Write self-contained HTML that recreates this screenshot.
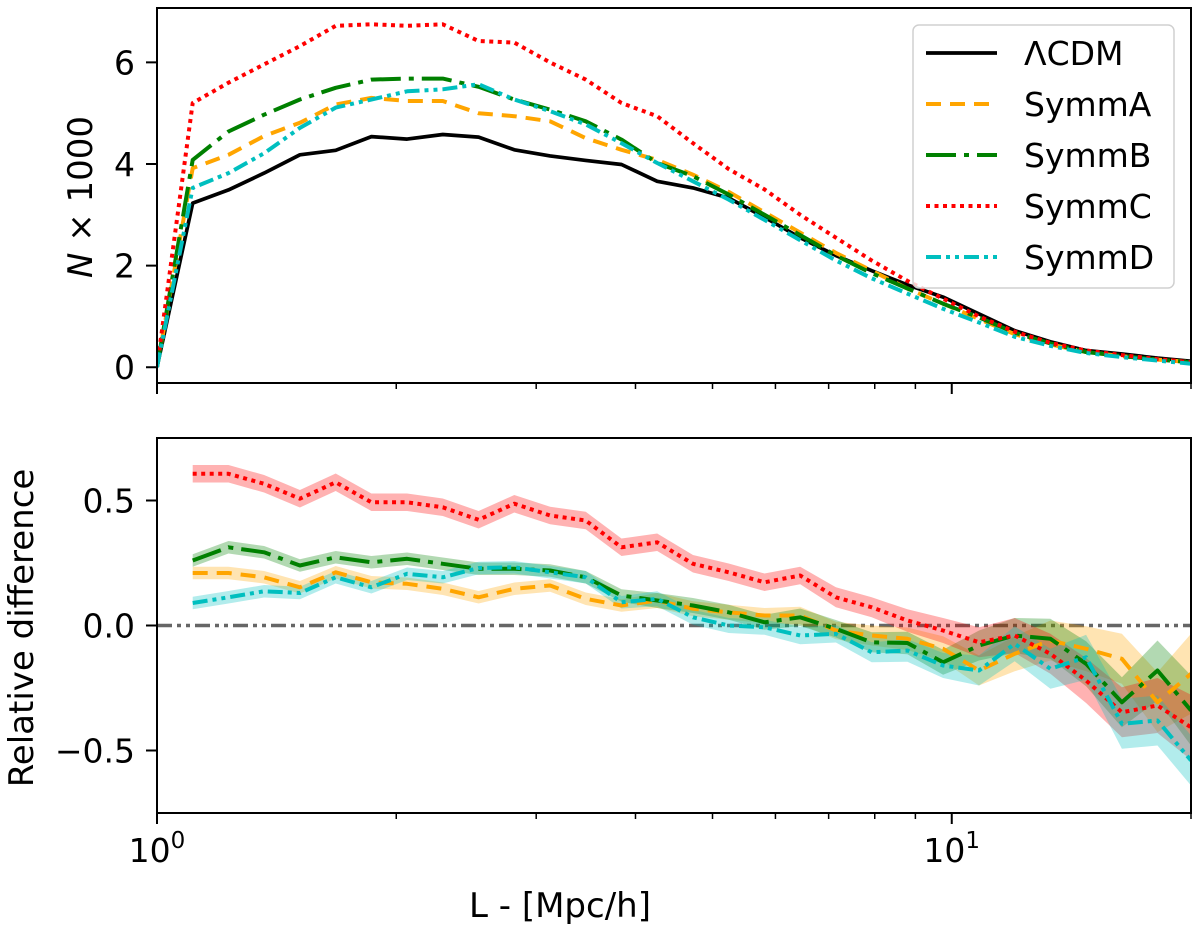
<!DOCTYPE html>
<html><head><meta charset="utf-8"><style>
body{margin:0;background:#fff;}
svg text{font-family:"DejaVu Sans","Liberation Sans",sans-serif;}
</style></head><body>
<svg id="chart" xmlns="http://www.w3.org/2000/svg" width="1200" height="925" viewBox="0 0 1200 925"></svg>
<script>
// ---- data ----
const L = [1.0,1.109,1.23,1.364,1.513,1.678,1.861,2.064,2.289,2.539,2.816,3.123,3.463,3.841,4.26,4.725,5.24,5.812,6.446,7.149,7.929,8.794,9.753,10.82,12.0,13.31,14.76,16.37,18.15,20.0];
const seriesNames = ["ΛCDM","SymmA","SymmB","SymmC","SymmD"];
const nLCDM = [0,3.23,3.49,3.82,4.18,4.27,4.54,4.49,4.58,4.53,4.28,4.16,4.07,3.99,3.66,3.53,3.33,2.95,2.55,2.2,1.9,1.62,1.38,1.05,0.72,0.5,0.33,0.26,0.18,0.12];
const nSymmA = [0,3.92,4.18,4.55,4.81,5.17,5.3,5.24,5.24,5.0,4.94,4.84,4.51,4.28,4.08,3.79,3.45,3.05,2.65,2.25,1.9,1.55,1.25,0.95,0.65,0.45,0.3,0.22,0.15,0.1];
const nSymmB = [0,4.08,4.64,4.97,5.27,5.5,5.66,5.68,5.68,5.52,5.27,5.07,4.84,4.48,4.02,3.76,3.4,3.0,2.6,2.2,1.85,1.55,1.25,0.98,0.68,0.47,0.3,0.22,0.15,0.1];
const nSymmC = [0,5.2,5.6,5.96,6.32,6.72,6.75,6.72,6.75,6.42,6.39,6.0,5.66,5.2,4.94,4.41,3.9,3.5,3.0,2.55,2.1,1.7,1.35,1.0,0.7,0.48,0.33,0.24,0.16,0.1];
const nSymmD = [0,3.53,3.82,4.21,4.71,5.11,5.27,5.43,5.47,5.57,5.27,5.04,4.78,4.41,4.02,3.66,3.3,2.9,2.5,2.1,1.75,1.45,1.15,0.88,0.6,0.42,0.28,0.2,0.13,0.07];
// relative difference (index 1..29)
const rA = [null,0.21,0.21,0.193,0.153,0.213,0.173,0.167,0.147,0.113,0.147,0.16,0.107,0.08,0.1,0.067,0.053,0.04,0.04,-0.02,-0.04,-0.053,-0.093,-0.18,-0.113,-0.06,-0.093,-0.133,-0.307,-0.193];
const rB = [null,0.26,0.313,0.293,0.24,0.273,0.253,0.267,0.247,0.227,0.227,0.22,0.193,0.12,0.1,0.08,0.053,0.013,0.033,-0.013,-0.067,-0.07,-0.147,-0.08,-0.04,-0.053,-0.153,-0.307,-0.18,-0.34];
const rC = [null,0.607,0.607,0.567,0.507,0.573,0.493,0.493,0.473,0.423,0.487,0.44,0.42,0.313,0.333,0.247,0.213,0.173,0.2,0.113,0.073,0.02,-0.02,-0.067,-0.04,-0.113,-0.22,-0.347,-0.32,-0.407];
const rD = [null,0.09,0.113,0.137,0.13,0.193,0.153,0.207,0.193,0.23,0.233,0.213,0.193,0.093,0.107,0.033,0.0,-0.007,-0.04,-0.033,-0.107,-0.1,-0.16,-0.18,-0.073,-0.173,-0.127,-0.393,-0.38,-0.54];
const eA = [null,0.025,0.025,0.025,0.025,0.025,0.025,0.025,0.025,0.025,0.025,0.025,0.025,0.025,0.03,0.03,0.03,0.03,0.035,0.035,0.04,0.045,0.05,0.06,0.07,0.08,0.09,0.1,0.12,0.16];
const eB = [null,0.025,0.025,0.025,0.025,0.025,0.025,0.025,0.025,0.025,0.025,0.025,0.025,0.025,0.03,0.03,0.03,0.03,0.035,0.035,0.04,0.045,0.05,0.06,0.07,0.08,0.09,0.1,0.12,0.14];
const eC = [null,0.035,0.035,0.035,0.035,0.035,0.035,0.035,0.035,0.035,0.035,0.035,0.035,0.035,0.035,0.035,0.035,0.035,0.035,0.04,0.04,0.045,0.05,0.06,0.07,0.08,0.09,0.1,0.11,0.13];
const eD = [null,0.025,0.025,0.025,0.025,0.025,0.025,0.025,0.025,0.025,0.025,0.025,0.025,0.025,0.03,0.03,0.03,0.03,0.035,0.035,0.04,0.045,0.05,0.06,0.07,0.08,0.09,0.1,0.1,0.1];
const topTicks = [0,2,4,6];
const botTicks = [-0.5,0.0,0.5];
const botTickLabels = ["−0.5","0.0","0.5"];
const minorX = [2,3,4,5,6,7,8,9,20];
// ---- layout ----
const X0=157, X1=1191, xmin=1, xmax=20;
const T={y0:8,y1:383,min:-0.31,max:7.07};
const B={y0:438,y1:813,min:-0.75,max:0.75};
const FS=33;
const NS="http://www.w3.org/2000/svg";
const svg=document.getElementById('chart');
function sx(v){return X0+(Math.log10(v)-Math.log10(xmin))/(Math.log10(xmax)-Math.log10(xmin))*(X1-X0);}
function sy(p,v){return p.y1-(v-p.min)/(p.max-p.min)*(p.y1-p.y0);}
function mk(tag,attrs,parent){const e=document.createElementNS(NS,tag);for(const k in attrs)e.setAttribute(k,attrs[k]);(parent||svg).appendChild(e);return e;}
const styles=[
 {c:"#000000",d:"",w:3.7},
 {c:"#FFA500",d:"15 9",w:4},
 {c:"#008000",d:"30 8 5 8",w:4},
 {c:"#FF0000",d:"4 4.5",w:4},
 {c:"#00BFBF",d:"15 5 4 5 4 5",w:4}
];
const defs=mk('defs',{});
const cpT=mk('clipPath',{id:'cpT'},defs);mk('rect',{x:X0,y:T.y0,width:X1-X0,height:T.y1-T.y0},cpT);
const cpB=mk('clipPath',{id:'cpB'},defs);mk('rect',{x:X0,y:B.y0,width:X1-X0,height:B.y1-B.y0},cpB);
// ---- top panel ----
const gT=mk('g',{'clip-path':'url(#cpT)'});


const topSeries=[nLCDM,nSymmA,nSymmB,nSymmC,nSymmD];
const topNames=['line-lcdm','line-symma','line-symmb','line-symmc','line-symmd'];
topSeries.forEach((s,k)=>{
  const d=s.map((v,i)=>(i?'L':'M')+sx(L[i]).toFixed(1)+','+sy(T,v).toFixed(1)).join(' ');
  const p=mk('path',{d:d,fill:'none',stroke:styles[k].c,'stroke-width':styles[k].w,'stroke-dasharray':styles[k].d,'stroke-linejoin':'round'},gT);
  
  
});
// ---- bottom panel ----
const gB=mk('g',{'clip-path':'url(#cpB)'});


const zl=mk('line',{x1:X0,x2:X1,y1:sy(B,0),y2:sy(B,0),stroke:'#666','stroke-width':3.5,'stroke-dasharray':'15 5 4 5 4 5'},gB);


const relS=[rA,rB,rC,rD], relE=[eA,eB,eC,eD];
const bandNames=['band-symma','band-symmb','band-symmc','band-symmd'];
const relNames=['rel-line-symma','rel-line-symmb','rel-line-symmc','rel-line-symmd'];
relS.forEach((s,k)=>{
  const e=relE[k];let up=[],dn=[];
  for(let i=1;i<s.length;i++){up.push(sx(L[i]).toFixed(1)+','+sy(B,s[i]+e[i]).toFixed(1));dn.unshift(sx(L[i]).toFixed(1)+','+sy(B,s[i]-e[i]).toFixed(1));}
  const b=mk('polygon',{points:up.concat(dn).join(' '),fill:styles[k+1].c,'fill-opacity':0.3,stroke:'none'},gB);
  
  
});
relS.forEach((s,k)=>{
  let d='';for(let i=1;i<s.length;i++)d+=(i>1?'L':'M')+sx(L[i]).toFixed(1)+','+sy(B,s[i]).toFixed(1)+' ';
  const p=mk('path',{d:d,fill:'none',stroke:styles[k+1].c,'stroke-width':4,'stroke-dasharray':styles[k+1].d,'stroke-linejoin':'round'},gB);
  
  
});
// ---- axes ----
[T,B].forEach((p,pi)=>{
  const r=mk('rect',{x:X0,y:p.y0,width:X1-X0,height:p.y1-p.y0,fill:'none',stroke:'#000','stroke-width':2});
  
  
  [1,10].forEach(v=>{const t=mk('line',{x1:sx(v),x2:sx(v),y1:p.y1,y2:p.y1+11,stroke:'#000','stroke-width':2});
    
    });
  minorX.forEach(v=>{const t=mk('line',{x1:sx(v),x2:sx(v),y1:p.y1,y2:p.y1+6,stroke:'#000','stroke-width':1.5});
    
    });
});
topTicks.forEach(v=>{
  const y=sy(T,v);
  const t=mk('line',{x1:X0-11,x2:X0,y1:y,y2:y,stroke:'#000','stroke-width':2});
  
  
  const tx=mk('text',{x:X0-22,y:y+12,'text-anchor':'end','font-size':FS});tx.textContent=v;
  
  
});
botTicks.forEach((v,i)=>{
  const y=sy(B,v);
  const t=mk('line',{x1:X0-11,x2:X0,y1:y,y2:y,stroke:'#000','stroke-width':2});
  
  
  const tx=mk('text',{x:X0-22,y:y+12,'text-anchor':'end','font-size':FS});tx.textContent=botTickLabels[i];
  
  
});
[[1,'0'],[10,'1']].forEach(a=>{
  const tx=mk('text',{x:sx(a[0]),y:862,'text-anchor':'middle','font-size':FS});
  
  
  tx.appendChild(document.createTextNode('10'));
  const ts=mk('tspan',{dy:-14,'font-size':23},tx);ts.textContent=a[1];
});
const xl=mk('text',{x:560,y:917,'text-anchor':'middle','font-size':34});xl.textContent='L - [Mpc/h]';


const yl1=mk('text',{x:0,y:0,'text-anchor':'middle','font-size':34,transform:'translate(92,197) rotate(-90)'});


const it=mk('tspan',{'font-style':'italic'},yl1);it.textContent='N';
yl1.appendChild(document.createTextNode(' × 1000'));
const yl2=mk('text',{x:0,y:0,'text-anchor':'middle','font-size':34,transform:'translate(33,628) rotate(-90)'});yl2.textContent='Relative difference';


// ---- legend ----
const lg=mk('g',{});


mk('rect',{x:913,y:25,width:261,height:263,rx:6,fill:'#fff','fill-opacity':0.8,stroke:'#d0d0d0','stroke-width':1.5},lg);
const entryNames=['legend-entry-lcdm','legend-entry-symma','legend-entry-symmb','legend-entry-symmc','legend-entry-symmd'];
seriesNames.forEach((n,k)=>{
  const y=53+k*51;
  const ge=mk('g',{},lg);
  
  
  mk('line',{x1:926,x2:997,y1:y,y2:y,stroke:styles[k].c,'stroke-width':styles[k].w,'stroke-dasharray':styles[k].d},ge);
  const t=mk('text',{x:1024,y:y+12,'font-size':FS},ge);t.textContent=n;
});
</script>
</body></html>
